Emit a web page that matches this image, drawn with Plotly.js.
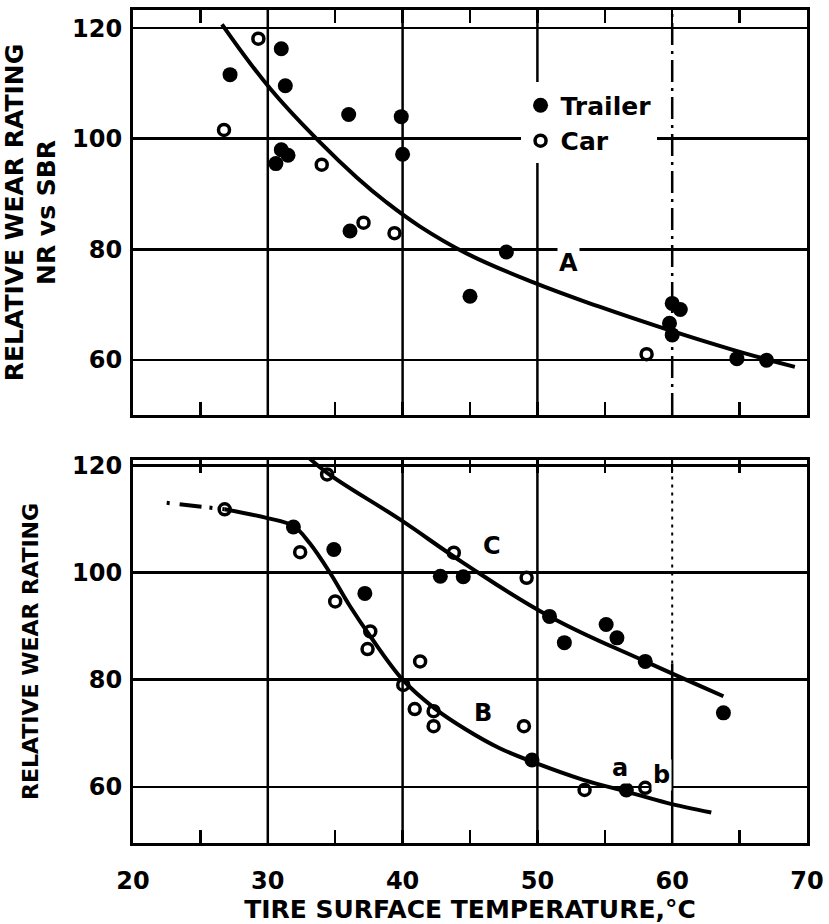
<!DOCTYPE html>
<html>
<head>
<meta charset="utf-8">
<script src="https://cdn.plot.ly/plotly-3.0.1.min.js"></script>
<style>html,body{margin:0;padding:0;background:#fff;}#chart{width:829px;height:924px;}</style>
</head>
<body>
<div id="chart"></div>
<script>
// ---- Top panel: NR vs SBR ----
const topTrailerX = [27.2, 31.0, 31.3, 30.6, 31.0, 31.5, 36.0, 36.1, 39.9, 40.0, 45.0, 47.7, 60.0, 60.6, 59.8, 60.0, 64.8, 67.0];
const topTrailerY = [111.6, 116.3, 109.6, 95.5, 98.0, 97.0, 104.4, 83.3, 104.0, 97.2, 71.5, 79.5, 70.2, 69.1, 66.6, 64.5, 60.2, 59.9];
const topCarX = [29.3, 26.75, 34.0, 37.1, 39.4, 58.1];
const topCarY = [118.1, 101.6, 95.3, 84.8, 82.9, 61.0];
const curveAX = [26.6, 30.2, 33.9, 36.6, 38.8, 41.3, 44.7, 49.7, 54.6, 59.6, 64.5, 69.1];
const curveAY = [120.7, 109.0, 99.3, 93.0, 88.5, 84.1, 79.3, 74.0, 69.6, 65.5, 61.8, 58.7];

// ---- Bottom panel ----
const botTrailerX = [31.9, 34.9, 37.2, 42.8, 44.5, 50.9, 52.0, 55.1, 55.9, 58.0, 63.8, 49.6, 56.6];
const botTrailerY = [108.5, 104.3, 96.1, 99.3, 99.2, 91.8, 86.9, 90.3, 87.8, 83.4, 73.8, 65.0, 59.4];
const botCarX = [26.8, 34.4, 32.4, 35.0, 37.6, 37.4, 41.3, 40.05, 40.9, 42.3, 42.3, 43.8, 49.2, 49.0, 53.5, 58.0];
const botCarY = [111.8, 118.3, 103.8, 94.6, 89.0, 85.7, 83.4, 79.0, 74.5, 74.1, 71.3, 103.7, 99.0, 71.3, 59.4, 59.8];
const curveBDashX = [22.5, 26.8];
const curveBDashY = [113.0, 111.8];
const curveBX = [26.8, 29.9, 31.9, 33.1, 34.6, 36.1, 37.6, 40.0, 42.4, 44.7, 47.2, 49.6, 53.4, 56.6, 59.6, 62.9];
const curveBY = [111.8, 110.2, 108.7, 105.5, 100.0, 93.7, 88.1, 80.0, 74.6, 70.7, 67.2, 64.7, 61.3, 59.1, 57.0, 55.2];
const curveCX = [32.8, 34.4, 39.8, 44.5, 50.9, 58.0, 63.8];
const curveCY = [122.0, 118.6, 109.9, 101.8, 91.8, 83.4, 76.9];

// ---- Axes / labels ----
const xTickVals = [20, 25, 30, 35, 40, 45, 50, 55, 60, 65, 70];
const xTickText = ['20', '', '30', '', '40', '', '50', '', '60', '', '70'];
const yTickVals = [60, 80, 100, 120];
const gridX = [30, 40, 50, 60];
const seriesNames = ['Trailer', 'Car'];
const curveLabels = [
  {text: 'A', x: 52.3, y: 77.5, panel: 'top'},
  {text: 'C', x: 46.6, y: 104.9, panel: 'bot'},
  {text: 'B', x: 46.0, y: 73.8, panel: 'bot'},
  {text: 'a', x: 56.1, y: 63.5, panel: 'bot'},
  {text: 'b', x: 59.2, y: 62.2, panel: 'bot'}
];
const xTitle = 'TIRE SURFACE TEMPERATURE,°C';
const yTitleTop = 'RELATIVE WEAR RATING<br>NR vs SBR';
const yTitleBot = 'RELATIVE WEAR RATING';

const FONT = 'DejaVu Sans, Liberation Sans, sans-serif';
const K = '#000';
const curveLine = {color: K, width: 4, shape: 'spline', smoothing: 1.2};
const filled = {symbol: 'circle', size: 15, color: K};
const open = {symbol: 'circle-open', size: 11, color: K, line: {width: 3.5, color: K}};

const traces = [
  {x: curveAX, y: curveAY, xaxis: 'x2', yaxis: 'y2', mode: 'lines', line: curveLine, showlegend: false, hoverinfo: 'skip'},
  {x: curveBDashX, y: curveBDashY, xaxis: 'x', yaxis: 'y', mode: 'lines', line: {color: K, width: 4, dash: '3px,10px,22px,8px'}, showlegend: false, hoverinfo: 'skip'},
  {x: curveBX, y: curveBY, xaxis: 'x', yaxis: 'y', mode: 'lines', line: {color: K, width: 4, shape: 'spline', smoothing: 1}, showlegend: false, hoverinfo: 'skip'},
  {x: curveCX, y: curveCY, xaxis: 'x', yaxis: 'y', mode: 'lines', line: curveLine, showlegend: false, hoverinfo: 'skip'},
  {x: topTrailerX, y: topTrailerY, xaxis: 'x2', yaxis: 'y2', mode: 'markers', name: seriesNames[0], legendgroup: 'tr', marker: filled},
  {x: topCarX, y: topCarY, xaxis: 'x2', yaxis: 'y2', mode: 'markers', name: seriesNames[1], legendgroup: 'car', marker: open},
  {x: botTrailerX, y: botTrailerY, xaxis: 'x', yaxis: 'y', mode: 'markers', name: seriesNames[0], legendgroup: 'tr', showlegend: false, marker: filled},
  {x: botCarX, y: botCarY, xaxis: 'x', yaxis: 'y', mode: 'markers', name: seriesNames[1], legendgroup: 'car', showlegend: false, marker: open}
];

const tickFont = {family: FONT, size: 24, color: K, weight: 700};

function xAxis(anchor, labels) {
  return {
    anchor: anchor, range: [20, 70], tickmode: 'array', tickvals: xTickVals, ticktext: xTickText,
    showticklabels: labels, ticks: 'inside', ticklen: 13, tickwidth: 2.5, tickcolor: K,
    showline: true, linecolor: K, linewidth: 3, mirror: 'ticks', showgrid: false, zeroline: false,
    tickfont: tickFont, ticklabelstandoff: 14, fixedrange: true
  };
}
function yAxis(domain, range, title, size, standoff) {
  return {
    domain: domain, range: range, tickmode: 'array', tickvals: yTickVals,
    showgrid: true, gridcolor: K, gridwidth: 2.5, ticks: '', showline: true, linecolor: K, linewidth: 3,
    mirror: true, zeroline: false, tickfont: tickFont, ticklabelstandoff: 3,
    title: {text: title, font: {family: FONT, size: size, color: K, weight: 700}, standoff: standoff}, fixedrange: true
  };
}

const shapes = [];
gridX.forEach(function (gx) {
  const dashedTop = gx === 60;
  shapes.push({type: 'line', xref: 'x2', yref: 'y2 domain', x0: gx, x1: gx, y0: 0, y1: 1,
    line: {color: K, width: 2.5, dash: dashedTop ? '22px,6px,3px,6px' : 'solid'}, layer: 'below'});
  if (gx === 60) {
    shapes.push({type: 'line', xref: 'x', yref: 'y', x0: gx, x1: gx, y0: 49.5, y1: 83,
      line: {color: K, width: 2.5}, layer: 'below'});
    shapes.push({type: 'line', xref: 'x', yref: 'y', x0: gx, x1: gx, y0: 83, y1: 121,
      line: {color: K, width: 2, dash: '3px,5px'}, layer: 'below'});
  } else {
    shapes.push({type: 'line', xref: 'x', yref: 'y domain', x0: gx, x1: gx, y0: 0, y1: 1,
      line: {color: K, width: 2.5}, layer: 'below'});
  }
});

const annotations = curveLabels.map(function (c) {
  return {text: c.text, x: c.x, y: c.y, xref: c.panel === 'top' ? 'x2' : 'x', yref: c.panel === 'top' ? 'y2' : 'y',
    showarrow: false, font: {family: FONT, size: 24, color: K, weight: 700}, bgcolor: '#fff', borderpad: 1};
});

const layout = {
  width: 829, height: 924,
  margin: {l: 133, r: 22, t: 10, b: 81},
  paper_bgcolor: '#fff', plot_bgcolor: '#fff',
  showlegend: true,
  legend: {x: 0.575, y: 0.913, xanchor: 'left', yanchor: 'top', bgcolor: '#fff', borderwidth: 0,
    font: {family: FONT, size: 25, color: K, weight: 700}, itemsizing: 'trace', tracegroupgap: 0, itemwidth: 30},
  xaxis: Object.assign(xAxis('y', true), {title: {text: xTitle, font: {family: FONT, size: 25, color: K, weight: 700}, standoff: 1}}),
  xaxis2: Object.assign(xAxis('y2', false), {matches: 'x'}),
  yaxis: yAxis([0, 0.4598], [49.5, 121], yTitleBot, 22, 28),
  yaxis2: yAxis([0.5138, 1], [50, 123.3], yTitleTop, 25, 12),
  shapes: shapes,
  annotations: annotations
};

Plotly.newPlot('chart', traces, layout, {displayModeBar: false, staticPlot: true});
</script>
</body>
</html>
